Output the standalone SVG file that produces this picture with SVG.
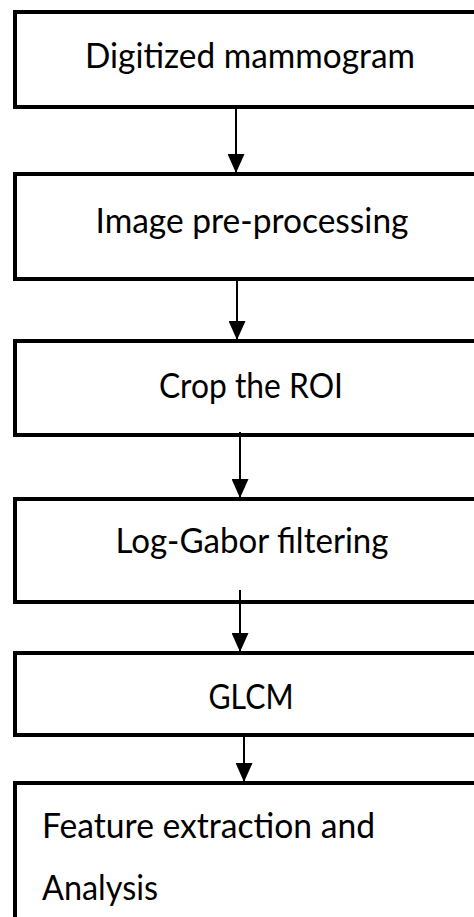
<svg xmlns="http://www.w3.org/2000/svg" width="474" height="917" viewBox="0 0 474 917">
<style>
.box{fill:#fff;stroke:#000;stroke-width:4}
.t{font-family:Lato,"Open Sans","Liberation Sans",sans-serif;font-size:35px;fill:#000}
.c{text-anchor:middle}
.conn line{stroke:#000;stroke-width:2}
</style>
<defs>
<marker id="ah" markerWidth="19" markerHeight="17" refX="19" refY="8.5" orient="auto" markerUnits="userSpaceOnUse" viewBox="0 0 19 17">
<path d="M0,0 L19,8.5 L0,17 Z" fill="#000"/>
</marker>
</defs>
<rect width="474" height="917" fill="#fff"/>
<g id="n1"><rect class="box" x="15" y="12" width="470" height="95"/><text class="t c" x="250" y="68" textLength="330" lengthAdjust="spacingAndGlyphs">Digitized mammogram</text></g>
<g id="n2"><rect class="box" x="15" y="174" width="470" height="105"/><text class="t c" x="252" y="233" textLength="313" lengthAdjust="spacingAndGlyphs">Image pre-processing</text></g>
<g id="n3"><rect class="box" x="15" y="341" width="470" height="94"/><text class="t c" x="251" y="398" textLength="184" lengthAdjust="spacingAndGlyphs">Crop the ROI</text></g>
<g id="n4"><rect class="box" x="15" y="499" width="470" height="103"/><text class="t c" x="252" y="553" textLength="273" lengthAdjust="spacingAndGlyphs">Log-Gabor filtering</text></g>
<g id="n5"><rect class="box" x="15" y="653" width="470" height="82"/><text class="t c" x="251" y="709" textLength="85" lengthAdjust="spacingAndGlyphs">GLCM</text></g>
<g id="n6"><rect class="box" x="15" y="783" width="470" height="160"/><text class="t" x="42" y="838" textLength="333" lengthAdjust="spacingAndGlyphs">Feature extraction and</text><text class="t" x="42" y="900" textLength="116" lengthAdjust="spacingAndGlyphs">Analysis</text></g>
<g id="connectors" class="conn">
<line x1="236" y1="108" x2="236" y2="173" marker-end="url(#ah)"/>
<line x1="237" y1="280" x2="237" y2="340" marker-end="url(#ah)"/>
<line x1="240" y1="432" x2="240" y2="498" marker-end="url(#ah)"/>
<line x1="240" y1="590" x2="240" y2="652" marker-end="url(#ah)"/>
<line x1="244" y1="736" x2="244" y2="782" marker-end="url(#ah)"/>
</g>
</svg>
